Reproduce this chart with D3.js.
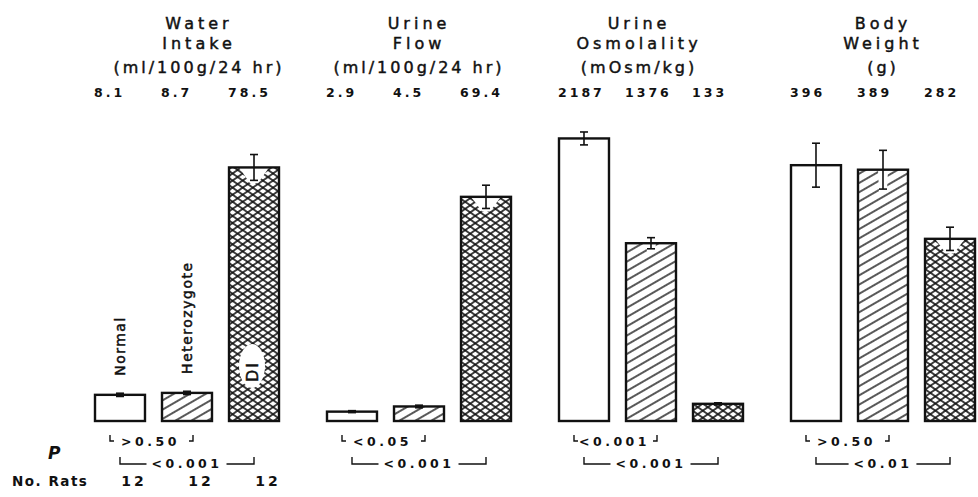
<!DOCTYPE html>
<html lang="en">
<head>
<meta charset="UTF-8">
<title>Water Intake, Urine Flow, Osmolality and Body Weight</title>
<script src="https://cdn.jsdelivr.net/npm/d3@7"></script>
<style>
    body { margin: 0; background: #fff; }
    svg { display: block; font-family: "DejaVu Sans", sans-serif; }
</style>
</head>
<body>
<svg id="chart" width="978" height="497"></svg>
<script>
// groups and measures
const genotypes = ["Normal", "Heterozygote", "DI"];
const measures = ["Water Intake", "Urine Flow", "Urine Osmolality", "Body Weight"];
const titleLines = [
    ["Water", "Intake", "(ml/100g/24 hr)"],
    ["Urine", "Flow", "(ml/100g/24 hr)"],
    ["Urine", "Osmolality", "(mOsm/kg)"],
    ["Body", "Weight", "(g)"]
];

// means and standard errors
const waterIntake = [8.1, 8.7, 78.5];
const waterIntakeSE = [0.5, 0.5, 4.0];
const urineFlow = [2.9, 4.5, 69.4];
const urineFlowSE = [0.3, 0.4, 3.6];
const urineOsm = [2187, 1376, 133];
const urineOsmSE = [50, 43, 8];
const bodyWeight = [396, 389, 282];
const bodyWeightSE = [34, 30, 18];
const axisMax = [100, 100, 2500, 500];

// significance and counts
const pNormHet = [">0.50", "<0.05", "<0.001", ">0.50"];
const pNormDI = ["<0.001", "<0.001", "<0.001", "<0.01"];
const ratCounts = [12, 12, 12];

const values = [waterIntake, urineFlow, urineOsm, bodyWeight];
const errors = [waterIntakeSE, urineFlowSE, urineOsmSE, bodyWeightSE];

const svg = d3.select("#chart");
const baseY = 421, topY = 98;
const ink = "#111";

const x0 = d3.scaleBand().domain(measures).range([95, 1023]);
const x1 = d3.scaleBand().domain(genotypes).range([0, 184]).paddingInner(0.254);
const yScales = axisMax.map(m => d3.scaleLinear().domain([0, m]).range([baseY, topY]));

// fill patterns
const defs = svg.append("defs");
function stripes(id, gap, angle, width) {
    const p = defs.append("pattern")
        .attr("id", id)
        .attr("patternUnits", "userSpaceOnUse")
        .attr("width", 20).attr("height", gap)
        .attr("patternTransform", `rotate(${angle})`);
    p.append("line")
        .attr("x1", 0).attr("x2", 20)
        .attr("y1", gap / 2).attr("y2", gap / 2)
        .attr("stroke", ink).attr("stroke-width", width);
}
stripes("hatch", 8, -30, 1.4);
stripes("crossA", 5.8, -35, 1.6);
stripes("crossB", 5.8, 35, 1.6);
const fills = [[], ["hatch"], ["crossA", "crossB"]];

// titles
const titleDx = [12, 0, -12, 0];
measures.forEach((m, g) => {
    const cx = x0(m) + 92 + titleDx[g];
    const t = svg.append("g").attr("fill", ink).attr("stroke", ink).attr("stroke-width", 0.45);
    titleLines[g].forEach((line, i) => {
        t.append("text")
            .attr("x", cx).attr("y", [29, 49, 73][i])
            .attr("text-anchor", "middle")
            .attr("font-size", 16)
            .attr("letter-spacing", i == 2 ? 3 : 4)
            .text(line);
    });
    // value row
    values[g].forEach((v, i) => {
        svg.append("text")
            .attr("x", x0(m) + x1(genotypes[i]) - 1)
            .attr("y", 97)
            .attr("font-size", 12.5)
            .attr("font-weight", "bold")
            .attr("letter-spacing", 3)
            .attr("fill", ink)
            .text(String(v));
    });
});

// bars
measures.forEach((m, g) => {
    const y = yScales[g];
    const grp = svg.append("g");
    genotypes.forEach((gt, i) => {
        const v = values[g][i], se = errors[g][i];
        const bx = x0(m) + x1(gt), bw = x1.bandwidth(), cx = bx + bw / 2;
        grp.append("rect")
            .attr("x", bx).attr("y", y(v))
            .attr("width", bw).attr("height", baseY - y(v))
            .attr("fill", "#fff");
        fills[i].forEach(f => {
            grp.append("rect")
                .attr("x", bx).attr("y", y(v))
                .attr("width", bw).attr("height", baseY - y(v))
                .attr("fill", `url(#${f})`);
        });
        // clear the hatching behind the lower half of the error bar
        const eLow = y(v - se);
        if (i > 0 && eLow - y(v) > 4) {
            const w = i == 2 ? 15 : 5;
            grp.append("path")
                .attr("d", `M${cx - w},${y(v)} L${cx + w},${y(v)} L${cx + 4},${eLow + 3} L${cx - 4},${eLow + 3} Z`)
                .attr("fill", "#fff");
        }
        grp.append("rect")
            .attr("x", bx).attr("y", y(v))
            .attr("width", bw).attr("height", baseY - y(v))
            .attr("fill", "none")
            .attr("stroke", ink).attr("stroke-width", 2.4);
        // error bar
        const eb = grp.append("g").attr("stroke", ink).attr("stroke-width", 1.6);
        eb.append("line").attr("x1", cx).attr("x2", cx).attr("y1", y(v + se)).attr("y2", y(v - se));
        [v + se, v - se].forEach(e => {
            eb.append("line").attr("x1", cx - 4).attr("x2", cx + 4).attr("y1", y(e)).attr("y2", y(e));
        });
    });

    // p-value brackets
    const cN = x0(m) + x1(genotypes[0]) + x1.bandwidth() / 2;
    const cH = x0(m) + x1(genotypes[1]) + x1.bandwidth() / 2;
    const cD = x0(m) + x1(genotypes[2]) + x1.bandwidth() / 2;
    const br = svg.append("g").attr("stroke", ink).attr("stroke-width", 1.4).attr("fill", "none");

    const L1 = cN - 10, R1 = cH + 6;
    br.append("path").attr("d", `M${L1},435 V441 H${L1 + 4} M${R1 - 4},441 H${R1} V435`);
    svg.append("text")
        .attr("x", (L1 + R1) / 2 - 1).attr("y", 446)
        .attr("text-anchor", "middle")
        .attr("font-size", 12.5).attr("font-weight", "bold")
        .attr("letter-spacing", 3.5).attr("fill", ink)
        .text(pNormHet[g]);

    const t2 = svg.append("text")
        .attr("x", (cN + cD) / 2).attr("y", 468)
        .attr("text-anchor", "middle")
        .attr("font-size", 12.5).attr("font-weight", "bold")
        .attr("letter-spacing", 3.5).attr("fill", ink)
        .text(pNormDI[g]);
    const half = t2.node().getComputedTextLength() / 2;
    const mid = (cN + cD) / 2;
    br.append("path").attr("d", `M${cN},457 V464 H${mid - half - 5} M${mid + half + 4},464 H${cD} V457`);
});

// group labels inside the first panel
const m0 = measures[0];
genotypes.slice(0, 2).forEach((gt, i) => {
    const cx = x0(m0) + x1(gt) + x1.bandwidth() / 2;
    const by = yScales[0](values[0][i]) - 19;
    svg.append("text")
        .attr("transform", `translate(${cx + 5},${by}) rotate(-90)`)
        .attr("font-size", 14)
        .attr("letter-spacing", 1.5)
        .attr("fill", ink).attr("stroke", ink).attr("stroke-width", 0.5)
        .text(gt);
});
const cxDI = x0(m0) + x1("DI") + x1.bandwidth() / 2;
svg.append("ellipse")
    .attr("cx", cxDI - 2).attr("cy", 366)
    .attr("rx", 13).attr("ry", 22)
    .attr("fill", "#fff");
svg.append("text")
    .attr("transform", `translate(${cxDI + 4},382) rotate(-90)`)
    .attr("font-size", 16)
    .attr("letter-spacing", 2)
    .attr("fill", ink).attr("stroke", ink).attr("stroke-width", 0.5)
    .text("DI");

// row labels
svg.append("text")
    .attr("x", 48).attr("y", 459)
    .attr("font-size", 17).attr("font-style", "italic").attr("font-weight", "bold")
    .attr("fill", ink)
    .text("P");
svg.append("text")
    .attr("x", 12).attr("y", 486)
    .attr("font-size", 13.5).attr("font-weight", "bold")
    .attr("letter-spacing", 1.5).attr("fill", ink)
    .text("No. Rats");
ratCounts.forEach((n, i) => {
    const cx = x0(m0) + x1(genotypes[i]) + x1.bandwidth() / 2;
    svg.append("text")
        .attr("x", cx + 14).attr("y", 486)
        .attr("text-anchor", "middle")
        .attr("font-size", 14).attr("font-weight", "bold")
        .attr("letter-spacing", 3).attr("fill", ink)
        .text(n);
});
</script>
</body>
</html>
